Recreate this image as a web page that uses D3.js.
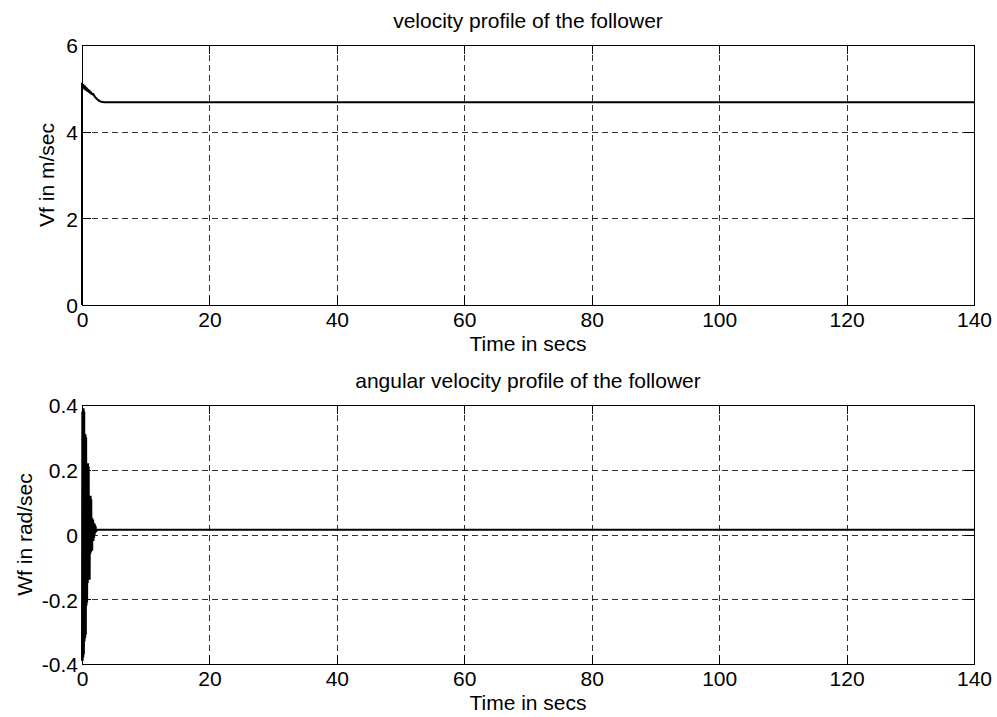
<!DOCTYPE html>
<html>
<head>
<meta charset="utf-8">
<script src="https://cdn.jsdelivr.net/npm/d3@7"></script>
<style>
  body { margin: 0; background: #fff; }
  svg { display: block; }
  text { font-family: "Liberation Sans", Arial, Helvetica, sans-serif; fill: #000; }
</style>
</head>
<body>
<svg id="chart" width="997" height="717"></svg>
<script>
// ---- data -------------------------------------------------------------
const xTicks = [0, 20, 40, 60, 80, 100, 120, 140];

// follower linear velocity (m/s) vs time (s)
const velTime = [0, 0, 0.1, 0.2, 0.3, 0.4, 0.5, 0.6, 0.7, 0.8, 0.9, 1.0, 1.1, 1.2,
  1.3, 1.4, 1.5, 1.6, 1.7, 1.8, 2.0, 2.3, 2.6, 3.0, 3.5, 140];
const velValue = [0, 5.13, 4.99, 5.10, 4.98, 5.07, 4.96, 5.04, 4.94, 5.01, 4.92, 4.98,
  4.90, 4.95, 4.88, 4.92, 4.86, 4.89, 4.85, 4.86, 4.81, 4.76, 4.72, 4.69, 4.68, 4.68];
const velTicks = [0, 2, 4, 6];

// follower angular velocity (rad/s) vs time (s)
const angTime = [0.00, 0.05, 0.10, 0.15, 0.20, 0.25, 0.30, 0.35, 0.40, 0.45, 0.50,
  0.55, 0.60, 0.65, 0.70, 0.75, 0.80, 0.85, 0.90, 0.95, 1.00, 1.05, 1.10, 1.15, 1.20,
  1.25, 1.30, 1.35, 1.40, 1.45, 1.50, 1.55, 1.60, 1.65, 1.70, 1.75, 1.80, 1.85, 1.90,
  1.95, 2.00, 2.05, 2.10, 2.15, 2.20, 2.50, 140];
const angValue = [-0.39, 0.38, -0.39, 0.39, -0.38, 0.39, -0.37, 0.38, -0.33, 0.31, -0.32,
  0.31, -0.31, 0.30, -0.22, 0.22, -0.21, 0.22, -0.15, 0.22, -0.14, 0.21, -0.14, 0.12, -0.14,
  0.12, -0.06, 0.12, -0.055, 0.11, -0.05, 0.05, -0.05, 0.05, -0.02, 0.045, -0.02, 0.035, -0.01,
  0.035, 0.0, 0.03, 0.005, 0.025, 0.01, 0.015, 0.015];
const angTicks = [-0.4, -0.2, 0, 0.2, 0.4];

// ---- layout -----------------------------------------------------------
const svg = d3.select("#chart");
const plotLeft = 82, plotRight = 974;
const W = plotRight - plotLeft;
const FONT = 21;

const panels = [
  { top: 45, bottom: 305, title: "velocity profile of the follower", ylabel: "Vf in m/sec",
    ylabelX: 54, domain: [0, 6], ticks: velTicks, t: velTime, v: velValue },
  { top: 405, bottom: 664, title: "angular velocity profile of the follower", ylabel: "Wf in rad/sec",
    ylabelX: 32, domain: [-0.4, 0.4], ticks: angTicks, t: angTime, v: angValue }
];

const x = d3.scaleLinear().domain([0, 140]).range([0, W]);

panels.forEach(p => {
  const H = p.bottom - p.top;
  const y = d3.scaleLinear().domain(p.domain).range([H, 0]);
  const g = svg.append("g").attr("transform", `translate(${plotLeft},${p.top})`);

  // dashed grid
  const grid = g.append("g").attr("stroke", "#000").attr("stroke-width", 0.8)
    .attr("stroke-dasharray", "6,4").attr("shape-rendering", "crispEdges");
  xTicks.slice(1, -1).forEach(t => {
    grid.append("line").attr("x1", Math.round(x(t)) + 0.5).attr("x2", Math.round(x(t)) + 0.5)
      .attr("y1", 0).attr("y2", H);
  });
  p.ticks.slice(1, -1).forEach(t => {
    grid.append("line").attr("y1", Math.round(y(t)) + 0.5).attr("y2", Math.round(y(t)) + 0.5)
      .attr("x1", 0).attr("x2", W);
  });

  // axes with inward ticks on all four sides
  const fmt = d => String(d);
  const styleAxis = sel => {
    sel.select(".domain").remove();
    sel.selectAll(".tick line").attr("stroke", "#000").attr("shape-rendering", "crispEdges");
    sel.selectAll("text").attr("font-size", FONT).attr("fill", "#000")
      .attr("font-family", '"Liberation Sans", Arial, sans-serif');
  };
  g.append("g").attr("transform", `translate(0,${H})`)
    .call(d3.axisBottom(x).tickValues(xTicks).tickFormat(fmt).tickSize(-9).tickPadding(8))
    .call(styleAxis)
    .selectAll("text").attr("dy", null).attr("y", 22);
  g.append("g")
    .call(d3.axisTop(x).tickValues(xTicks).tickFormat("").tickSize(-9))
    .call(styleAxis);
  g.append("g")
    .call(d3.axisLeft(y).tickValues(p.ticks).tickFormat(fmt).tickSize(-9).tickPadding(4))
    .call(styleAxis)
    .selectAll("text").attr("dy", "0.38em");
  g.append("g").attr("transform", `translate(${W},0)`)
    .call(d3.axisRight(y).tickValues(p.ticks).tickFormat("").tickSize(-9))
    .call(styleAxis);

  // box
  g.append("rect").attr("x", 0.5).attr("y", 0.5).attr("width", W).attr("height", H)
    .attr("fill", "none").attr("stroke", "#000").attr("stroke-width", 1)
    .attr("shape-rendering", "crispEdges");

  // data line
  const pts = p.t.map((t, i) => [t, p.v[i]]);
  g.append("path").datum(pts)
    .attr("fill", "none").attr("stroke", "#000").attr("stroke-width", 2)
    .attr("stroke-linejoin", "miter").attr("stroke-miterlimit", 1.5)
    .attr("d", d3.line().x(d => x(d[0])).y(d => y(d[1])));

  // title
  svg.append("text").attr("x", plotLeft + W / 2).attr("y", p.top - 17)
    .attr("text-anchor", "middle").attr("font-size", FONT).text(p.title);

  // x label
  svg.append("text").attr("x", plotLeft + W / 2).attr("y", p.bottom + 46)
    .attr("text-anchor", "middle").attr("font-size", FONT).text("Time in secs");

  // y label
  svg.append("text")
    .attr("transform", `translate(${p.ylabelX},${p.top + H / 2}) rotate(-90)`)
    .attr("text-anchor", "middle").attr("font-size", FONT).text(p.ylabel);
});
</script>
</body>
</html>
